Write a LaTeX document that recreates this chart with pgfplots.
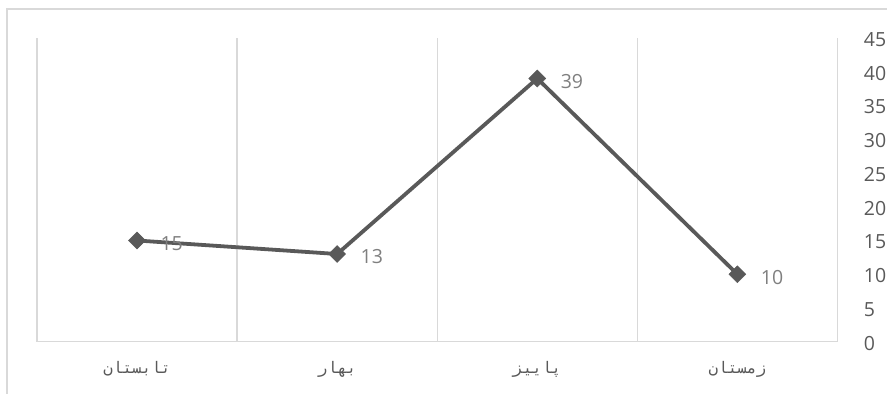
\documentclass[border=0pt]{standalone}
\usepackage{pgfplots}
\pgfplotsset{compat=1.18}
\usepackage{fontspec}
\setmainfont{Open Sans}
\newfontfamily\arabicfont[Script=Arabic]{DejaVu Sans Mono}
\TeXXeTstate=1
\definecolor{linegray}{HTML}{595959}
\definecolor{gridgray}{HTML}{D9D9D9}
\definecolor{labelgray}{HTML}{7F7F7F}
\begin{document}
\begin{tikzpicture}
\begin{axis}[
  scale only axis,
  width=801bp, height=304bp,
  xmin=0, xmax=4, ymin=0, ymax=45,
  axis line style={draw=none},
  xtick={0.5,1.5,2.5,3.5},
  xticklabels={
    {\arabicfont\beginR تابستان\endR},
    {\arabicfont\beginR بهار\endR},
    {\arabicfont\beginR پاییز\endR},
    {\arabicfont\beginR زمستان\endR}},
  minor xtick={0,1,2,3,4},
  xminorgrids,
  minor grid style={gridgray, line width=1.2bp},
  major tick length=0pt, minor tick length=0pt,
  ytick={0,5,...,45},
  yticklabel pos=right,
  /pgf/number format/assume math mode=true,
  ticklabel style={font=\fontsize{19.5bp}{22bp}\selectfont, text=linegray},
  xticklabel style={font=\fontsize{16bp}{19bp}\selectfont, yshift=-16bp},
  yticklabel style={xshift=23bp, yshift=-1.5bp},
  clip=false,
]
\draw[gridgray, line width=1.2bp] (axis cs:0,0) -- (axis cs:4,0);
\addplot[
  linegray, line width=3.8bp,
  mark=square*, mark size=6bp,
  mark options={rotate=45, fill=linegray, draw=linegray, line width=0.5bp},
  nodes near coords,
  every node near coord/.append style={anchor=west, xshift=20bp, yshift=-3bp,
    text=labelgray, font=\fontsize{19.5bp}{22bp}\selectfont},
] coordinates {(0.5,15) (1.5,13) (2.5,39) (3.5,10)};
\end{axis}
\pgfresetboundingbox
\path (-37bp,-52bp) rectangle (851bp,342bp);
\draw[gridgray, line width=1.2bp] (-30bp,-52bp) -- (-30bp,333bp) -- (851bp,333bp);
\end{tikzpicture}
\end{document}
